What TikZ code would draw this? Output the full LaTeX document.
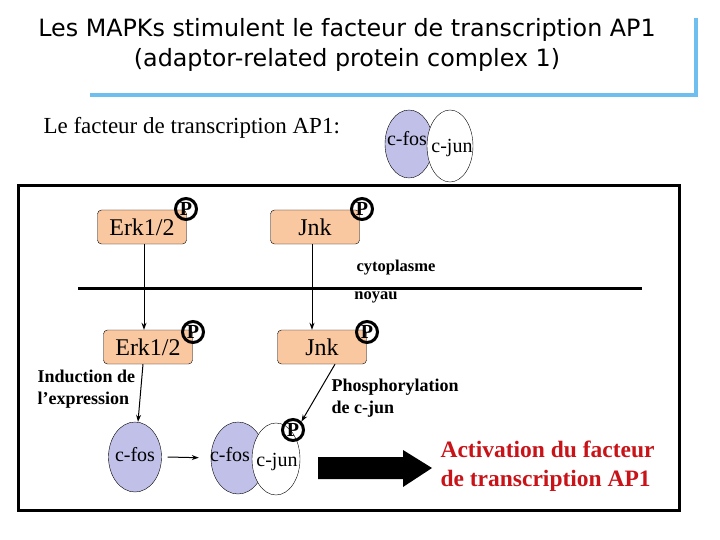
\documentclass[tikz,border=0pt]{standalone}
\usepackage{fontspec}
\setmainfont{Liberation Serif}
\newfontfamily\titlefont{DejaVu Sans}
\usepackage{tikz}
\usetikzlibrary{shapes.geometric,arrows.meta,positioning}
\definecolor{KF}{RGB}{250,200,160}
\definecolor{FF}{RGB}{192,192,232}
\definecolor{BL}{RGB}{110,190,240}
\definecolor{RD}{RGB}{200,20,25}
\tikzset{
  kinase/.style={draw, fill=KF, rounded corners=4pt, minimum width=89pt,
                 minimum height=34pt, inner sep=0pt,
                 font=\fontsize{24}{24}\selectfont},
  phos/.style={circle, draw, line width=3pt, inner sep=0pt,
               minimum size=21pt, font=\fontsize{20}{20}\selectfont\bfseries},
  prot/.style={ellipse, draw, inner sep=0pt, minimum width=50pt,
               minimum height=70pt},
  protname/.style={font=\fontsize{20}{20}\selectfont},
  lbl/.style={font=\fontsize{18}{22}\selectfont\bfseries, align=left},
  sig/.style={-{Stealth[length=7pt,width=5pt]}, line width=1pt}
}

\begin{document}
\begin{tikzpicture}[x=1pt,y=-1pt]
  \useasboundingbox (0,0) rectangle (720,540);
  %% title
  \node[font=\titlefont\fontsize{23.8}{30}\selectfont, align=center]
    (title) at (347,45) {Les MAPKs stimulent le facteur de transcription AP1\\
    (adaptor-related protein complex 1)};
  \draw[BL, line width=3.5pt] (90,95) -- (696,95) -- (696,18);
  %% AP1 legend
  \node[anchor=west, font=\fontsize{23}{23}\selectfont]
    (ap1) at (40,128) {Le facteur de transcription AP1:};
  \node[prot, fill=FF, minimum width=48pt, minimum height=68pt] (fos0) at (409,144) {};
  \node[protname] (tfos0) at (407,139) {c-fos};
  \node[prot, fill=white, minimum width=46pt, minimum height=72pt] (jun0) at (450,146) {};
  \node[protname] (tjun0) at (452,148) {c-jun};
  %% cell box and membrane
  \draw[line width=3pt] (18,186) rectangle (679,510);
  \draw[line width=3pt] (78,288) -- (642,288);
  \node[font=\fontsize{16.5}{16.5}\selectfont\bfseries] (cyto) at (396,268) {cytoplasme};
  \node[font=\fontsize{16.5}{16.5}\selectfont\bfseries] (noy) at (376,297) {noyau};
  %% kinases in cytoplasm
  \node[kinase] (erk1) at (142,227) {Erk1/2};
  \node[phos] (perk1) at (186,209) {P};
  \node[kinase] (jnk1) at (315,227) {Jnk};
  \node[phos] (pjnk1) at (362,209) {P};
  %% kinases in nucleus
  \node[kinase] (erk2) at (148,347) {Erk1/2};
  \node[phos] (perk2) at (193,332) {P};
  \node[kinase] (jnk2) at (322,347) {Jnk};
  \node[phos] (pjnk2) at (367,332) {P};
  \draw[sig] (erk1.south -| 144,0) -- (erk2.north -| 144,0);
  \draw[sig] (jnk1.south -| 312,0) -- (jnk2.north -| 312,0);
  %% c-fos and complex
  \node[prot, fill=FF, minimum width=53pt] (fos1) at (135,457) {};
  \node[protname] (tfos1) at (135,455) {c-fos};
  \node[prot, fill=FF, minimum width=54pt, minimum height=72pt] (fos2) at (238,458) {};
  \node[protname] (tfos2) at (230,455) {c-fos};
  \node[prot, fill=white, minimum width=48pt, minimum height=72pt] (jun2) at (276,459) {};
  \node[protname] (tjun2) at (277,462) {c-jun};
  \node[phos] (pjun) at (293,430) {P};
  \draw[sig] (erk2.south -| 143,0) -- (fos1.north -| 138,0);
  \draw[sig, shorten >=12pt] (fos1.east) ++(6,0) coordinate (a1) (a1) -- (fos2.west);
  \draw[sig] (jnk2.south -| 335,0) -- (pjun.north east);
  \node[lbl, anchor=west] (ind) at (34,389) {Induction de\\l'expression};
  \node[lbl, anchor=west] (pho) at (328,398) {Phosphorylation\\de c-jun};
  %% activation
  \fill (318,457) -- (403,457) -- (403,450) -- (432,468) -- (403,487)
    -- (403,479) -- (318,479) -- cycle;
  \node[anchor=west, align=left, text=RD,
        font=\fontsize{23.5}{29}\selectfont\bfseries]
    (act) at (437,466) {Activation du facteur\\de transcription AP1};
\end{tikzpicture}
\end{document}
